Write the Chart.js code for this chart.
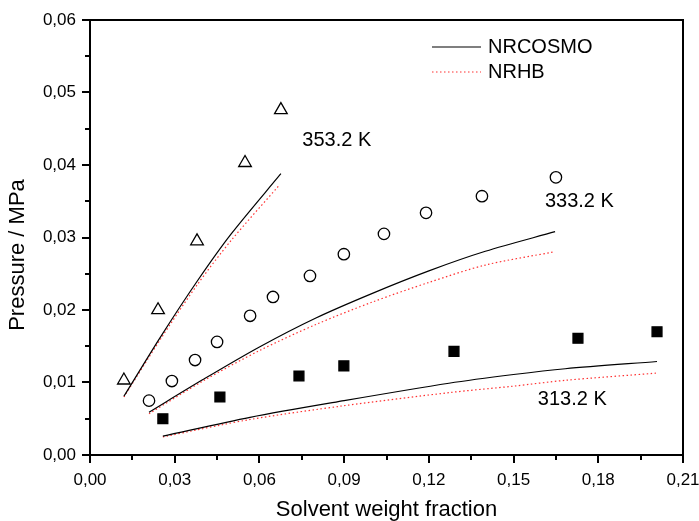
<!DOCTYPE html>
<html>
<head>
<meta charset="utf-8">
<script src="https://cdn.jsdelivr.net/npm/chart.js@4"></script>
<style>
  html, body { margin: 0; padding: 0; background: #fff; }
  #wrap { width: 699px; height: 521px; }
</style>
</head>
<body>
<div id="wrap"><canvas id="chart" width="699" height="521"></canvas></div>
<script>
// Akser
const xTicks = [0, 0.03, 0.06, 0.09, 0.12, 0.15, 0.18, 0.21];
const yTicks = [0, 0.01, 0.02, 0.03, 0.04, 0.05, 0.06];

// Eksperimentelle punkter
const exp353x = [0.0120, 0.0241, 0.0379, 0.0549, 0.0676];
const exp353y = [0.0103, 0.0200, 0.0295, 0.0403, 0.0476];
const exp333x = [0.0209, 0.0290, 0.0372, 0.0450, 0.0567, 0.0648, 0.0779, 0.0899, 0.1041, 0.1190, 0.1388, 0.1650];
const exp333y = [0.0075, 0.0102, 0.0131, 0.0156, 0.0192, 0.0218, 0.0247, 0.0277, 0.0305, 0.0334, 0.0357, 0.0383];
const exp313x = [0.0258, 0.0460, 0.0740, 0.0899, 0.1289, 0.1728, 0.2008];
const exp313y = [0.0050, 0.0080, 0.0109, 0.0123, 0.0143, 0.0161, 0.0170];

// Modeller
const cosmo353x = [0.0120, 0.0250, 0.0380, 0.0500, 0.0676];
const cosmo353y = [0.0081, 0.0163, 0.0240, 0.0305, 0.0388];
const nrhb353x = [0.0120, 0.0250, 0.0380, 0.0500, 0.0670];
const nrhb353y = [0.0080, 0.0160, 0.0235, 0.0296, 0.0372];
const cosmo333x = [0.0209, 0.04, 0.06, 0.08, 0.10, 0.12, 0.14, 0.1647];
const cosmo333y = [0.0059, 0.0104, 0.0149, 0.0189, 0.0223, 0.0254, 0.0281, 0.0308];
const nrhb333x = [0.0209, 0.04, 0.06, 0.08, 0.10, 0.12, 0.14, 0.1640];
const nrhb333y = [0.0057, 0.0102, 0.0144, 0.0180, 0.0211, 0.0238, 0.0262, 0.0280];
const cosmo313x = [0.0258, 0.0567, 0.09, 0.1271, 0.15, 0.1683, 0.2008];
const cosmo313y = [0.0026, 0.0052, 0.0075, 0.0099, 0.0111, 0.0119, 0.0129];
const nrhb313x = [0.0258, 0.0567, 0.09, 0.1271, 0.15, 0.1683, 0.2008];
const nrhb313y = [0.0025, 0.0049, 0.0068, 0.0086, 0.0095, 0.0103, 0.0113];

const legendNames = ["NRCOSMO", "NRHB"];
const tempLabels = ["353.2 K", "333.2 K", "313.2 K"];
const yTitle = "Pressure / MPa";

const FONT = "'Liberation Sans', Arial, sans-serif";
const RED = "#ff3030";

function pts(xs, ys) {
  return xs.map((x, i) => ({ x: x, y: ys[i] }));
}
function fmt(v) {
  return v.toFixed(2).replace(".", ",");
}

function modelLine(xs, ys, nrhb) {
  return {
    data: pts(xs, ys),
    showLine: true,
    borderColor: nrhb ? RED : "#000",
    borderWidth: 1.2,
    borderDash: nrhb ? [1.5, 2.5] : [],
    pointRadius: 0,
    tension: 0.3,
    fill: false
  };
}
function markers(xs, ys, style, filled, r) {
  return {
    data: pts(xs, ys),
    showLine: false,
    pointStyle: style,
    pointRadius: r,
    pointBorderColor: "#000",
    pointBackgroundColor: filled ? "#000" : "rgba(0,0,0,0)",
    pointBorderWidth: 1.3
  };
}

// Ramme, tikker, legende og temperaturer
const decor = {
  id: "decor",
  afterDraw(chart) {
    const ctx = chart.ctx;
    const a = chart.chartArea;
    const xs = chart.scales.x, ys = chart.scales.y;
    ctx.save();
    ctx.strokeStyle = "#000";
    ctx.lineWidth = 2;
    ctx.strokeRect(a.left, a.top, a.right - a.left, a.bottom - a.top);

    ctx.beginPath();
    for (let i = 0; i <= 14; i++) {
      const px = Math.round(xs.getPixelForValue(i * 0.015));
      const len = i % 2 === 0 ? 8 : 5;
      ctx.moveTo(px, a.bottom);
      ctx.lineTo(px, a.bottom + len);
    }
    for (let i = 0; i <= 12; i++) {
      const py = Math.round(ys.getPixelForValue(i * 0.005));
      const len = i % 2 === 0 ? 8 : 5;
      ctx.moveTo(a.left, py);
      ctx.lineTo(a.left - len, py);
    }
    ctx.stroke();

    // legende
    ctx.lineWidth = 1.2;
    ctx.beginPath();
    ctx.moveTo(432, 47);
    ctx.lineTo(481, 47);
    ctx.stroke();
    ctx.strokeStyle = RED;
    ctx.setLineDash([1.5, 2.5]);
    ctx.beginPath();
    ctx.moveTo(432, 72);
    ctx.lineTo(481, 72);
    ctx.stroke();
    ctx.setLineDash([]);

    ctx.fillStyle = "#000";
    ctx.textBaseline = "middle";
    ctx.textAlign = "left";
    ctx.font = "20px " + FONT;
    ctx.fillText(legendNames[0], 488, 47);
    ctx.fillText(legendNames[1], 488, 72);

    ctx.fillText(tempLabels[0], xs.getPixelForValue(0.0752), ys.getPixelForValue(0.0434));
    ctx.fillText(tempLabels[1], xs.getPixelForValue(0.1611), ys.getPixelForValue(0.0350));
    ctx.fillText(tempLabels[2], xs.getPixelForValue(0.1586), ys.getPixelForValue(0.0077));

    // y-aksetittel
    ctx.translate(18, 255);
    ctx.rotate(-Math.PI / 2);
    ctx.textAlign = "center";
    ctx.font = "22px " + FONT;
    ctx.fillText(yTitle, 0, 0);
    ctx.restore();
  }
};

const ctx = document.getElementById("chart").getContext("2d");
new Chart(ctx, {
  type: "scatter",
  data: {
    datasets: [
      modelLine(cosmo353x, cosmo353y, false),
      modelLine(nrhb353x, nrhb353y, true),
      modelLine(cosmo333x, cosmo333y, false),
      modelLine(nrhb333x, nrhb333y, true),
      modelLine(cosmo313x, cosmo313y, false),
      modelLine(nrhb313x, nrhb313y, true),
      markers(exp353x, exp353y, "triangle", false, 7.3),
      markers(exp333x, exp333y, "circle", false, 5.7),
      markers(exp313x, exp313y, "rect", true, 7)
    ]
  },
  options: {
    responsive: false,
    animation: false,
    events: [],
    layout: { padding: { left: 0, right: 16, top: 20, bottom: 0 } },
    plugins: {
      legend: { display: false },
      tooltip: { enabled: false }
    },
    scales: {
      x: {
        type: "linear",
        min: 0,
        max: 0.21,
        afterBuildTicks(scale) {
          scale.ticks = xTicks.map(v => ({ value: v }));
        },
        afterFit(scale) {
          scale.height = 66;
          scale.paddingLeft = 0;
          scale.paddingRight = 0;
        },
        grid: { display: false, drawTicks: false, tickLength: 0 },
        border: { display: false },
        ticks: {
          color: "#000",
          font: { family: FONT, size: 17 },
          padding: 15,
          maxRotation: 0,
          autoSkip: false,
          callback: v => fmt(v)
        },
        title: {
          display: true,
          text: "Solvent weight fraction",
          color: "#000",
          font: { family: FONT, size: 22, lineHeight: 1.0 },
          padding: { top: 0, bottom: 0 }
        }
      },
      y: {
        type: "linear",
        min: 0,
        max: 0.06,
        afterBuildTicks(scale) {
          scale.ticks = yTicks.map(v => ({ value: v }));
        },
        afterFit(scale) {
          scale.width = 90;
          scale.paddingTop = 0;
          scale.paddingBottom = 0;
        },
        grid: { display: false, drawTicks: false, tickLength: 0 },
        border: { display: false },
        ticks: {
          color: "#000",
          font: { family: FONT, size: 17 },
          padding: 14,
          autoSkip: false,
          callback: v => fmt(v)
        },
        title: { display: false }
      }
    }
  },
  plugins: [decor]
});
</script>
</body>
</html>
